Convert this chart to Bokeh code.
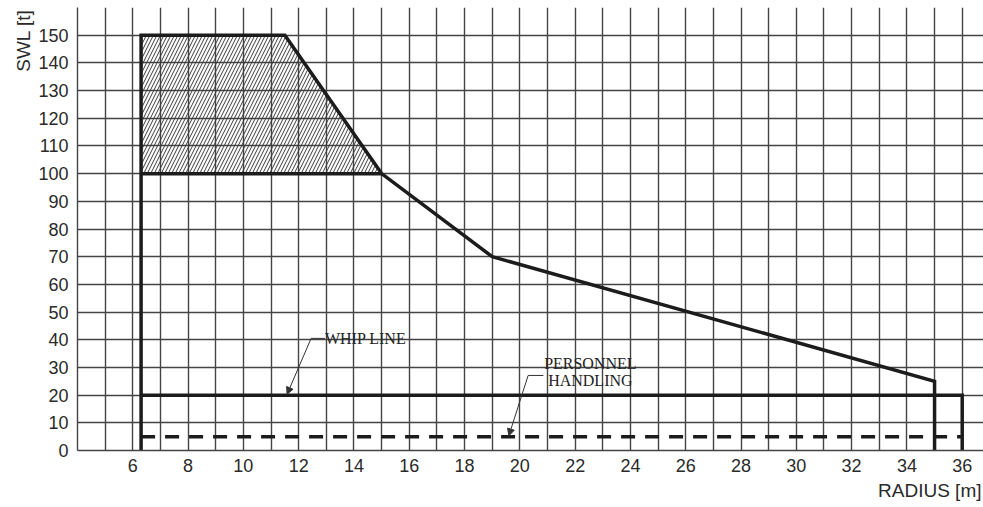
from bokeh.plotting import figure
from bokeh.models import Range1d, FixedTicker, Label, Arrow, NormalHead, Title
from bokeh.embed import file_html
from bokeh.resources import INLINE

# ---- data ----
# load curve (radius m, SWL t)
curve_r = [6.3, 6.3, 11.5, 15, 19, 35, 35]
curve_swl = [0, 150, 150, 100, 70, 25, 0]
# hatched (special) zone
zone_r = [6.3, 6.3, 11.5, 15]
zone_swl = [100, 150, 150, 100]
# whip line
whip_r = [6.3, 36, 36]
whip_swl = [20, 20, 0]
# personnel handling
pers_r = [6.3, 36]
pers_swl = [5, 5]

x_ticks = list(range(6, 37, 2))
y_ticks = list(range(0, 151, 10))
x_grid = list(range(4, 37))
y_grid = list(range(0, 161, 10))

# annotation leaders (data units)
whip_text_pos = (12.95, 40.5)
whip_leader_x = [12.95, 12.45]
whip_leader_y = [40.5, 40.5]
whip_arrow = (12.45, 40.5, 11.58, 20.3)

pers_text_pos = (20.85, 27.1)
pers_leader_x = [20.85, 20.30]
pers_leader_y = [27.1, 27.1]
pers_arrow = (20.30, 27.1, 19.6, 5.3)

DARK = "#1c1c1c"
GRID = "#444444"

p = figure(width=983, height=507, output_backend="svg", toolbar_location=None,
           x_range=Range1d(4, 36.77), y_range=Range1d(0, 160),
           min_border_left=77, min_border_right=0, min_border_top=7, min_border_bottom=57)
p.outline_line_color = None
p.background_fill_color = "white"

for ax in (p.xaxis[0], p.yaxis[0]):
    ax.major_tick_in = 0
    ax.major_tick_out = 0
    ax.minor_tick_in = 0
    ax.minor_tick_out = 0
    ax.axis_line_color = GRID
    ax.axis_line_width = 1.4
    ax.major_label_text_font = "Liberation Sans"
    ax.major_label_text_font_size = "18px"
    ax.major_label_text_color = "#2a2a2a"

p.xaxis.ticker = FixedTicker(ticks=x_ticks)
p.yaxis.ticker = FixedTicker(ticks=y_ticks)
p.xaxis.major_label_standoff = 8
p.yaxis.major_label_standoff = 9

p.xgrid.ticker = FixedTicker(ticks=x_grid)
p.ygrid.ticker = FixedTicker(ticks=y_grid)
for g in (p.xgrid[0], p.ygrid[0]):
    g.grid_line_color = GRID
    g.grid_line_width = 1.4
    g.grid_line_alpha = 1.0

# hatched zone
p.patch(zone_r, zone_swl, fill_color=None, line_color=None,
        hatch_pattern="/", hatch_color="#3a3a3a", hatch_scale=7, hatch_weight=1)
# load curve
p.line(curve_r, curve_swl, line_color=DARK, line_width=3.5, line_join="miter")
p.line([zone_r[0], zone_r[3]], [zone_swl[0], zone_swl[3]], line_color=DARK, line_width=3.5)
# whip line
p.line(whip_r, whip_swl, line_color=DARK, line_width=3.5, line_join="miter")
# personnel
p.line(pers_r, pers_swl, line_color=DARK, line_width=3.5, line_dash="14 10")

# annotations
p.line(whip_leader_x, whip_leader_y, line_color="#333333", line_width=1)
p.add_layout(Arrow(x_start=whip_arrow[0], y_start=whip_arrow[1], x_end=whip_arrow[2], y_end=whip_arrow[3],
                   line_color="#333333", line_width=1,
                   end=NormalHead(size=7, fill_color="#333333", line_color="#333333")))
p.add_layout(Label(x=whip_text_pos[0], y=whip_text_pos[1], text="WHIP LINE",
                   text_font="Liberation Serif", text_font_size="16px", text_color="#222222",
                   text_baseline="middle", text_align="left", x_offset=0))

p.line(pers_leader_x, pers_leader_y, line_color="#333333", line_width=1)
p.add_layout(Arrow(x_start=pers_arrow[0], y_start=pers_arrow[1], x_end=pers_arrow[2], y_end=pers_arrow[3],
                   line_color="#333333", line_width=1,
                   end=NormalHead(size=7, fill_color="#333333", line_color="#333333")))
p.add_layout(Label(x=pers_text_pos[0] + 1.7, y=pers_text_pos[1], y_offset=12, text="PERSONNEL",
                   text_font="Liberation Serif", text_font_size="16px", text_color="#222222",
                   text_baseline="middle", text_align="center"))
p.add_layout(Label(x=pers_text_pos[0] + 1.7, y=pers_text_pos[1], y_offset=-5, text="HANDLING",
                   text_font="Liberation Serif", text_font_size="16px", text_color="#222222",
                   text_baseline="middle", text_align="center"))

# axis titles
p.add_layout(Title(text="SWL [t]", align="right", text_font="Liberation Sans",
                   text_font_size="19px", text_font_style="normal", text_color="#2a2a2a",
                   standoff=4, offset=2), "left")
p.add_layout(Title(text="RADIUS [m]", align="right", text_font="Liberation Sans",
                   text_font_size="19px", text_font_style="normal", text_color="#2a2a2a",
                   standoff=7, offset=2), "below")

open("out.html", "w").write(file_html(p, INLINE))
